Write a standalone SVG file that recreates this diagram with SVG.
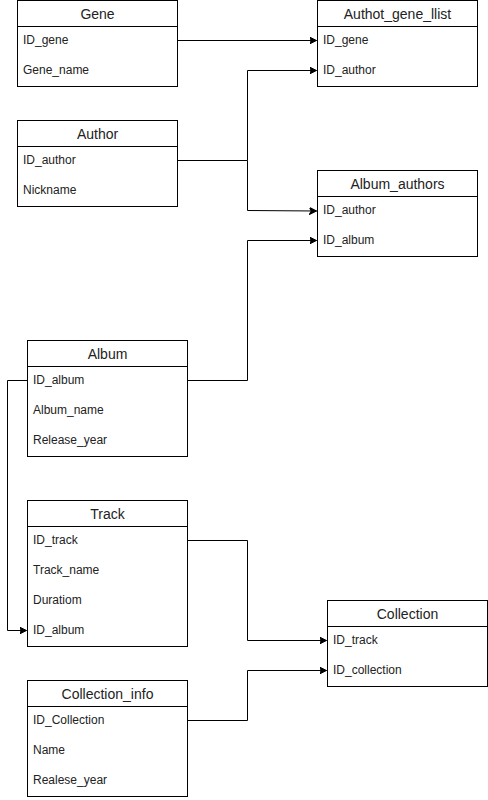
<svg xmlns="http://www.w3.org/2000/svg" width="488" height="800" viewBox="0 0 488 800">
<defs>
<style>
.box{fill:#fff;stroke:#000;stroke-width:1}
.hd{font-family:"Liberation Sans",Arial,sans-serif;font-size:14px;fill:#222;text-anchor:middle}
.rw{font-family:"Liberation Sans",Arial,sans-serif;font-size:12px;fill:#222}
.cn{fill:none;stroke:#000;stroke-width:1}
</style>
<marker id="ar" markerUnits="userSpaceOnUse" markerWidth="8" markerHeight="8" refX="7" refY="4" orient="auto">
<path d="M0,0.5 L7,4 L0,7.5 L1.75,4 Z" fill="#000" stroke="#000" stroke-width="1"/>
</marker>
</defs>
<rect width="488" height="800" fill="#fff"/>
<g id="connectors">
<path class="cn" d="M177.5,40.5 H316.5" marker-end="url(#ar)"/>
<path class="cn" d="M177.5,160.5 H247.5 V70.5 H316.5" marker-end="url(#ar)"/>
<path class="cn" d="M247.5,160.5 V210.5 L316.5,211" marker-end="url(#ar)"/>
<path class="cn" d="M187.5,380.5 H247.5 V240.5 H316.5" marker-end="url(#ar)"/>
<path class="cn" d="M27.5,380.5 H7.5 V630.5 H26.5" marker-end="url(#ar)"/>
<path class="cn" d="M187.5,540.5 H247.5 V640.5 H326.5" marker-end="url(#ar)"/>
<path class="cn" d="M187.5,720.5 H247.5 V670.5 H326.5" marker-end="url(#ar)"/>
</g>
<g id="gene">
<rect class="box" x="17.5" y="0.5" width="160" height="86"/>
<line class="cn" x1="17.5" y1="26.5" x2="177.5" y2="26.5"/>
<text class="hd" x="97.5" y="19">Gene</text>
<text class="rw" x="23" y="44">ID_gene</text>
<text class="rw" x="23" y="74">Gene_name</text>
</g>
<g id="authot_gene_llist">
<rect class="box" x="317.5" y="0.5" width="160" height="86"/>
<line class="cn" x1="317.5" y1="26.5" x2="477.5" y2="26.5"/>
<text class="hd" x="397.5" y="19">Authot_gene_llist</text>
<text class="rw" x="323" y="44">ID_gene</text>
<text class="rw" x="323" y="74">ID_author</text>
</g>
<g id="author">
<rect class="box" x="17.5" y="120.5" width="160" height="86"/>
<line class="cn" x1="17.5" y1="146.5" x2="177.5" y2="146.5"/>
<text class="hd" x="97.5" y="139">Author</text>
<text class="rw" x="23" y="164">ID_author</text>
<text class="rw" x="23" y="194">Nickname</text>
</g>
<g id="album_authors">
<rect class="box" x="317.5" y="170.5" width="160" height="86"/>
<line class="cn" x1="317.5" y1="196.5" x2="477.5" y2="196.5"/>
<text class="hd" x="397.5" y="189">Album_authors</text>
<text class="rw" x="323" y="214">ID_author</text>
<text class="rw" x="323" y="244">ID_album</text>
</g>
<g id="album">
<rect class="box" x="27.5" y="340.5" width="160" height="116"/>
<line class="cn" x1="27.5" y1="366.5" x2="187.5" y2="366.5"/>
<text class="hd" x="107.5" y="359">Album</text>
<text class="rw" x="33" y="384">ID_album</text>
<text class="rw" x="33" y="414">Album_name</text>
<text class="rw" x="33" y="444">Release_year</text>
</g>
<g id="track">
<rect class="box" x="27.5" y="500.5" width="160" height="146"/>
<line class="cn" x1="27.5" y1="526.5" x2="187.5" y2="526.5"/>
<text class="hd" x="107.5" y="519">Track</text>
<text class="rw" x="33" y="544">ID_track</text>
<text class="rw" x="33" y="574">Track_name</text>
<text class="rw" x="33" y="604">Duratiom</text>
<text class="rw" x="33" y="634">ID_album</text>
</g>
<g id="collection">
<rect class="box" x="327.5" y="600.5" width="160" height="86"/>
<line class="cn" x1="327.5" y1="626.5" x2="487.5" y2="626.5"/>
<text class="hd" x="407.5" y="619">Collection</text>
<text class="rw" x="333" y="644">ID_track</text>
<text class="rw" x="333" y="674">ID_collection</text>
</g>
<g id="collection_info">
<rect class="box" x="27.5" y="680.5" width="160" height="116"/>
<line class="cn" x1="27.5" y1="706.5" x2="187.5" y2="706.5"/>
<text class="hd" x="107.5" y="699">Collection_info</text>
<text class="rw" x="33" y="724">ID_Collection</text>
<text class="rw" x="33" y="754">Name</text>
<text class="rw" x="33" y="784">Realese_year</text>
</g>
</svg>
